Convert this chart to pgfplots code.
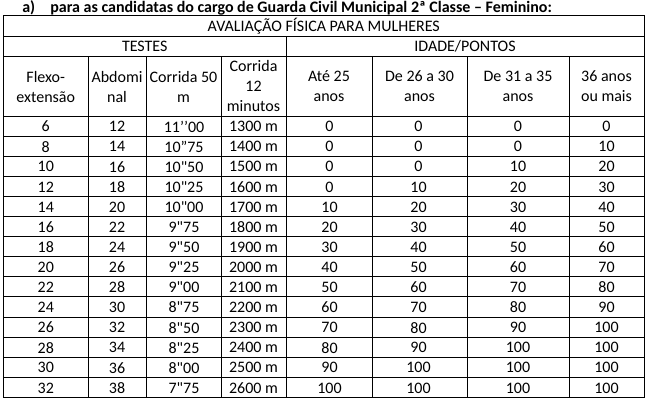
\documentclass[border=0pt]{standalone}
\usepackage{fontspec}
\setmainfont{Carlito}[Ligatures=TeXOff]
\usepackage{pgfplots}
\pgfplotsset{compat=1.18}
\usepackage{pgfplotstable}

% pontuação por idade
\pgfplotstableread[col sep=comma, row sep=\\]{
flexo,abd,cor,km,a,b,c,d\\
6,12,11’’00,1300 m,0,0,0,0\\
8,14,10”75,1400 m,0,0,0,10\\
10,16,10"50,1500 m,0,0,10,20\\
12,18,10"25,1600 m,0,10,20,30\\
14,20,10"00,1700 m,10,20,30,40\\
16,22,9"75,1800 m,20,30,40,50\\
18,24,9"50,1900 m,30,40,50,60\\
20,26,9"25,2000 m,40,50,60,70\\
22,28,9"00,2100 m,50,60,70,80\\
24,30,8"75,2200 m,60,70,80,90\\
26,32,8"50,2300 m,70,80,90,100\\
28,34,8"25,2400 m,80,90,100,100\\
30,36,8"00,2500 m,90,100,100,100\\
32,38,7"75,2600 m,100,100,100,100\\
}\tabela

\pgfplotsset{
  cell/.style={black, draw=none, mark=none, forget plot,
    nodes near coords, point meta=explicit symbolic,
    nodes near coords style={anchor=center, inner sep=0pt, text=black,
      font=\fontsize{12}{15}\selectfont}},
}

\begin{document}
\begin{tikzpicture}[font=\fontsize{12}{15}\selectfont]
  \begin{axis}[
      scale only axis,
      width=488.25pt, height=303.75pt,
      xmin=0, xmax=651, ymin=0, ymax=405,
      y dir=reverse,
      hide axis,
      clip=false,
    ]
    % grade da tabela
    \draw[line width=0.75pt] (axis cs:3.5,15.7) rectangle (axis cs:644,397.3);
    \pgfplotsinvokeforeach{36,56.7,116,136.1,156.2,176.3,196.4,216.5,236.6,256.7,276.8,296.9,317,337.1,357.2,377.3}{
      \draw[line width=0.75pt] (axis cs:3.5,#1) -- (axis cs:644,#1);
    }
    \draw[line width=0.75pt] (axis cs:286,36) -- (axis cs:286,397.3);
    \pgfplotsinvokeforeach{88,146,221,372,467,569}{
      \draw[line width=0.75pt] (axis cs:#1,56.7) -- (axis cs:#1,397.3);
    }

    % titulo
    \node[anchor=base west, inner sep=0pt, font=\fontsize{12}{15}\selectfont\bfseries] at (axis cs:22,12) {a)};
    \node[anchor=base west, inner sep=0pt, font=\fontsize{12}{15}\selectfont\bfseries] at (axis cs:50,12)
      {para as candidatas do cargo de Guarda Civil Municipal 2ª Classe – Feminino:};

    % cabeçalhos
    \node at (axis cs:323.75,26) {AVALIAÇÃO FÍSICA PARA MULHERES};
    \node at (axis cs:144.75,46.5) {TESTES};
    \node at (axis cs:465,46.5) {IDADE/PONTOS};
    \node[align=center] at (axis cs:45.75,86.5) {Flexo-\\extensão};
    \node[align=center] at (axis cs:117,86.5) {Abdomi\\nal};
    \node[align=center] at (axis cs:183.5,86.5) {Corrida 50\\m};
    \node[align=center] at (axis cs:253.5,85.5) {Corrida\\12\\minutos};
    \node[align=center] at (axis cs:329,86.5) {Até 25\\anos};
    \node[align=center] at (axis cs:419.5,86.5) {De 26 a 30\\anos};
    \node[align=center] at (axis cs:518,86.5) {De 31 a 35\\anos};
    \node[align=center] at (axis cs:606.5,86.5) {36 anos\\ou mais};

    % valores
    \addplot[cell] table[x expr=45.75, y expr=126.6+20.1*\coordindex, meta=flexo] {\tabela};
    \addplot[cell] table[x expr=117, y expr=126.6+20.1*\coordindex, meta=abd] {\tabela};
    \addplot[cell] table[x expr=184, y expr=126.6+20.1*\coordindex, meta=cor] {\tabela};
    \addplot[cell] table[x expr=253.5, y expr=126.6+20.1*\coordindex, meta=km] {\tabela};
    \addplot[cell] table[x expr=329.5, y expr=126.6+20.1*\coordindex, meta=a] {\tabela};
    \addplot[cell] table[x expr=418.5, y expr=126.6+20.1*\coordindex, meta=b] {\tabela};
    \addplot[cell] table[x expr=518, y expr=126.6+20.1*\coordindex, meta=c] {\tabela};
    \addplot[cell] table[x expr=606.5, y expr=126.6+20.1*\coordindex, meta=d] {\tabela};
  \end{axis}
  \pgfresetboundingbox
  \path (current axis.south west) rectangle (current axis.north east);
\end{tikzpicture}
\end{document}
